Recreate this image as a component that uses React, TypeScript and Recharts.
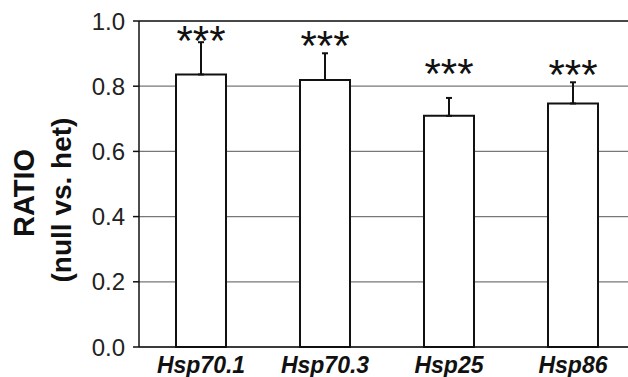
import React from 'react'
import { ComposedChart, Bar, ErrorBar, Scatter, XAxis, YAxis, CartesianGrid, ReferenceLine } from 'recharts'

const genes = ['Hsp70.1', 'Hsp70.3', 'Hsp25', 'Hsp86']
const ratio = [0.836, 0.819, 0.709, 0.747]
const upperErr = [0.099, 0.082, 0.055, 0.065]
const starLevel = [0.957, 0.943, 0.857, 0.853]
const yTicks = [0, 0.2, 0.4, 0.6, 0.8, 1.0]

const data = genes.map((g, i) => ({
  name: g,
  ratio: ratio[i],
  err: [0, upperErr[i]],
  star: starLevel[i],
}))

const font = '"Liberation Sans", Arial, Helvetica, sans-serif'

function GeneTick({ x, y, payload }: any) {
  return (
    <text x={x} y={y + 24} textAnchor="middle" fontFamily={font} fontSize={23}
      fontWeight="bold" fontStyle="italic" fill="#111">
      {payload.value}
    </text>
  )
}

function Stars({ cx, cy }: any) {
  return (
    <text x={cx} y={cy + 20} textAnchor="middle" fontFamily={font} fontSize={42} fill="#111">
      ***
    </text>
  )
}

function App() {
  return (
    <div style={{ position: 'absolute', left: 0, top: 0, width: 628, height: 377, overflow: 'hidden', background: '#fff' }}>
      <ComposedChart width={635} height={377} data={data}
        margin={{ top: 21, right: 0, left: 0, bottom: 0 }}>
        <CartesianGrid vertical={false} stroke="#777" strokeWidth={1.2} />
        <ReferenceLine y={1} stroke="#222" strokeWidth={1.5} />
        <XAxis dataKey="name" tick={<GeneTick />} tickLine={false} tickSize={0}
          axisLine={{ stroke: '#111', strokeWidth: 1.5 }} height={30} />
        <YAxis domain={[0, 1]} ticks={yTicks} width={139} tickSize={6} tickMargin={8}
          tickFormatter={(v: number) => v.toFixed(1)}
          tick={{ fill: '#222', fontSize: 24, fontFamily: font }}
          tickLine={{ stroke: '#111', strokeWidth: 1.5 }}
          axisLine={{ stroke: '#111', strokeWidth: 1.5 }}>
        </YAxis>
        <Bar dataKey="ratio" fill="#fff" stroke="#111" strokeWidth={2} barSize={50} isAnimationActive={false}>
          <ErrorBar dataKey="err" direction="y" width={3} stroke="#111" strokeWidth={2} />
        </Bar>
        <Scatter dataKey="star" shape={<Stars />} isAnimationActive={false} />
        <text x={24} y={193} transform="rotate(-90 24 193)" textAnchor="middle" dominantBaseline="central"
          fontFamily={font} fontSize={29} fontWeight="bold" fill="#111">RATIO</text>
        <text x={61} y={200} transform="rotate(-90 61 200)" textAnchor="middle" dominantBaseline="central"
          fontFamily={font} fontSize={28} fontWeight="bold" fill="#111">(null vs. het)</text>
      </ComposedChart>
    </div>
  )
}

export default App
